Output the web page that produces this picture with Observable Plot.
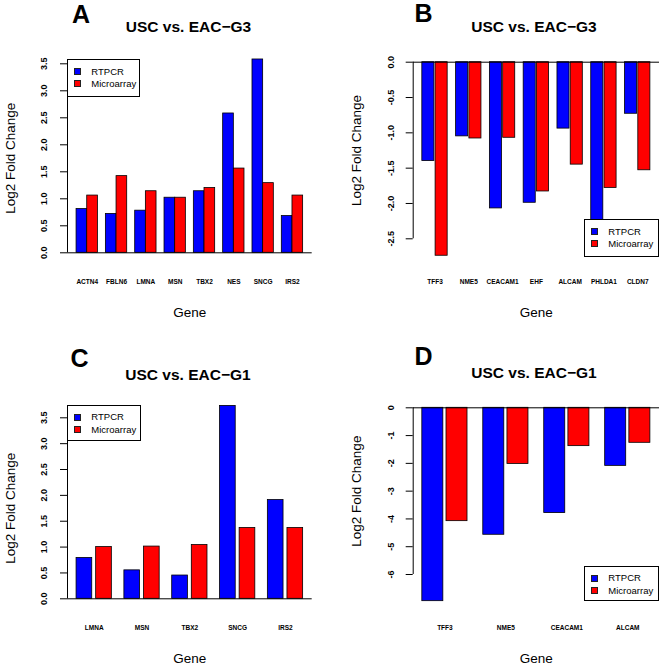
<!DOCTYPE html>
<html><head><meta charset="utf-8">
<script src="https://cdn.jsdelivr.net/npm/d3@7"></script>
<script src="https://cdn.jsdelivr.net/npm/@observablehq/plot@0.6"></script>
<style>
body{margin:0;background:#fff;}
#wrap{position:relative;width:662px;height:667px;overflow:hidden;background:#fff;font-family:"Liberation Sans",Arial,Helvetica,sans-serif;color:#000;}
.box{position:absolute;}
.title{position:absolute;font-weight:bold;font-size:15.5px;white-space:nowrap;transform:translateX(-50%);line-height:1;}
.letter{position:absolute;font-weight:bold;font-size:25px;line-height:1;}
.legend{position:absolute;background:#fff;border:1px solid #000;box-sizing:border-box;}
.sw{position:absolute;width:7px;height:7px;box-sizing:border-box;border:1px solid #222;}
.lt{position:absolute;font-size:9.5px;line-height:1;white-space:nowrap;}
</style></head>
<body><div id="wrap"></div>
<script>
// Panel A: USC vs. EAC-G3 (up-regulated)
const genesA = ["ACTN4","FBLN6","LMNA","MSN","TBX2","NES","SNCG","IRS2"];
const rtpcrA = [0.81,0.72,0.78,1.02,1.14,2.58,3.58,0.68];
const microA = [1.06,1.42,1.14,1.02,1.20,1.56,1.29,1.06];
const ticksA = [0,0.5,1,1.5,2,2.5,3,3.5];
// Panel B: USC vs. EAC-G3 (down-regulated)
const genesB = ["TFF3","NME5","CEACAM1","EHF","ALCAM","PHLDA1","CLDN7"];
const rtpcrB = [-1.40,-1.05,-2.07,-1.99,-0.94,-2.28,-0.73];
const microB = [-2.74,-1.08,-1.07,-1.83,-1.45,-1.78,-1.53];
const ticksB = [0,-0.5,-1,-1.5,-2,-2.5];
// Panel C: USC vs. EAC-G1 (up-regulated)
const genesC = ["LMNA","MSN","TBX2","SNCG","IRS2"];
const rtpcrC = [0.79,0.55,0.45,3.73,1.91];
const microC = [1.00,1.01,1.04,1.37,1.37];
const ticksC = [0,0.5,1,1.5,2,2.5,3,3.5];
// Panel D: USC vs. EAC-G1 (down-regulated)
const genesD = ["TFF3","NME5","CEACAM1","ALCAM"];
const rtpcrD = [-6.96,-4.57,-3.79,-2.09];
const microD = [-4.08,-2.02,-1.38,-1.26];
const ticksD = [0,-1,-2,-3,-4,-5,-6];

const seriesNames = ["RTPCR","Microarray"];
const seriesColors = ["#0000ff","#ff0000"];
const FONT = '"Liberation Sans", Arial, Helvetica, sans-serif';
const wrap = document.getElementById("wrap");

function panel(o) {
  const n = o.genes.length;
  const pI = o.b / (2 + o.a + o.b);
  const pO = 0.04 * (n - pI);
  const xs = d3.scaleBand().domain(o.genes).range([o.mL, o.W - o.mR])
    .paddingInner(pI).paddingOuter(pO).align(0.5);
  const u = xs.bandwidth() / (2 + o.a);
  const inset = (1 + o.a) * u;
  const axisShift = -(xs(o.genes[0]) + xs.bandwidth() / 2 - o.mL);
  const table = o.genes.map((g, i) => ({gene: g, rt: o.rt[i], ma: o.ma[i]}));
  const svg = Plot.plot({
    width: o.W, height: o.H,
    marginLeft: o.mL, marginRight: o.mR, marginTop: o.mT, marginBottom: o.mB,
    style: {fontFamily: FONT, background: "transparent", overflow: "visible", color: "#000"},
    x: {type: "band", domain: o.genes, paddingInner: pI, paddingOuter: pO, align: 0.5, round: false},
    y: {domain: o.yDomain},
    marks: [
      Plot.barY(table, {x: "gene", y: "rt", fill: seriesColors[0], stroke: "#000", strokeWidth: 0.8, insetRight: inset}),
      Plot.barY(table, {x: "gene", y: "ma", fill: seriesColors[1], stroke: "#000", strokeWidth: 0.8, insetLeft: inset}),
      Plot.ruleY([0], {stroke: "#000", strokeWidth: 1}),
      Plot.ruleX([o.genes[0]], {x: d => d, y1: o.yDomain[0], y2: o.yDomain[1], dx: axisShift, stroke: "#000", strokeWidth: 1}),
      Plot.axisY({ticks: o.ticks, tickFormat: o.fmt, tickSize: 7, tickPadding: o.yPad, tickRotate: -90,
        textAnchor: "middle", lineAnchor: "middle", fontSize: 9, fontWeight: "bold", label: null}),
      Plot.axisX({tickSize: 0, tickPadding: o.xPad, fontSize: 6.5, fontWeight: "bold", label: null}),
      Plot.text(["Log2 Fold Change"], {text: d => d, frameAnchor: "left", textAnchor: "middle", lineAnchor: "middle",
        rotate: -90, dx: -56.7, fontSize: 13.5}),
      Plot.text(["Gene"], {text: d => d, frameAnchor: "bottom", textAnchor: "middle", lineAnchor: "middle",
        dy: o.geneDy, fontSize: 13.5})
    ]
  });
  const box = document.createElement("div");
  box.className = "box";
  box.style.left = o.left + "px";
  box.style.top = o.top + "px";
  box.appendChild(svg);
  wrap.appendChild(box);

  const t = document.createElement("div");
  t.className = "title"; t.textContent = o.title;
  t.style.left = o.titleX + "px"; t.style.top = o.titleTop + "px";
  wrap.appendChild(t);

  const L = document.createElement("div");
  L.className = "letter"; L.textContent = o.letter;
  L.style.left = o.letterX + "px"; L.style.top = o.letterTop + "px";
  wrap.appendChild(L);

  const lg = document.createElement("div");
  lg.className = "legend";
  lg.style.left = o.lg[0] + "px"; lg.style.top = o.lg[1] + "px";
  lg.style.width = o.lg[2] + "px"; lg.style.height = o.lg[3] + "px";
  seriesNames.forEach((name, i) => {
    const cy = [11, 23.5][i];
    const s = document.createElement("div");
    s.className = "sw"; s.style.background = seriesColors[i];
    s.style.left = "6px"; s.style.top = (cy - 3.5) + "px";
    lg.appendChild(s);
    const tx = document.createElement("div");
    tx.className = "lt"; tx.textContent = name;
    tx.style.left = "23px"; tx.style.top = (cy - 4.7) + "px";
    lg.appendChild(tx);
  });
  wrap.appendChild(lg);
}

const fmt1 = d => d.toFixed(1);
const fmt0 = d => String(d);

panel({genes: genesA, rt: rtpcrA, ma: microA, ticks: ticksA, fmt: fmt1, yDomain: [0, 3.5],
  a: 0, b: 0.75, W: 331, H: 330, mL: 67, mR: 19.3, mT: 63.3, mB: 77.7, left: 0, top: 0,
  yPad: 16.5, xPad: 26.4, geneDy: 59.4,
  title: "USC vs. EAC\u2212G3", titleX: 188.5, titleTop: 18.6, letter: "A", letterX: 72, letterTop: 2.1,
  lg: [67.3, 59.3, 73, 37.5]});

panel({genes: genesB, rt: rtpcrB, ma: microB, ticks: ticksB, fmt: fmt1, yDomain: [-2.5, 0],
  a: 0.1, b: 0.7, W: 331, H: 330, mL: 81.7, mR: 3, mT: 61.7, mB: 91.7, left: 331, top: 0,
  yPad: 15.5, xPad: 40.4, geneDy: 73.4,
  title: "USC vs. EAC\u2212G3", titleX: 534, titleTop: 18.9, letter: "B", letterX: 414.5, letterTop: 0.5,
  lg: [584.3, 219.3, 75, 37.5]});

panel({genes: genesC, rt: rtpcrC, ma: microC, ticks: ticksC, fmt: fmt1, yDomain: [0, 3.5],
  a: 0.25, b: 0.8, W: 331, H: 337, mL: 67, mR: 19.3, mT: 87.3, mB: 68.7, left: 0, top: 330,
  yPad: 16.5, xPad: 26.1, geneDy: 60,
  title: "USC vs. EAC\u2212G1", titleX: 188, titleTop: 366.9, letter: "C", letterX: 70.5, letterTop: 345.8,
  lg: [67.3, 405, 73.5, 35.5]});

panel({genes: genesD, rt: rtpcrD, ma: microD, ticks: ticksD, fmt: fmt0, yDomain: [-6, 0],
  a: 0.15, b: 0.75, W: 331, H: 337, mL: 81.7, mR: 3, mT: 77.3, mB: 93, left: 331, top: 330,
  yPad: 15.5, xPad: 50.4, geneDy: 84.3,
  title: "USC vs. EAC\u2212G1", titleX: 534, titleTop: 365.2, letter: "D", letterX: 414.5, letterTop: 343.8,
  lg: [584.3, 566, 75, 34.5]});
</script></body></html>
